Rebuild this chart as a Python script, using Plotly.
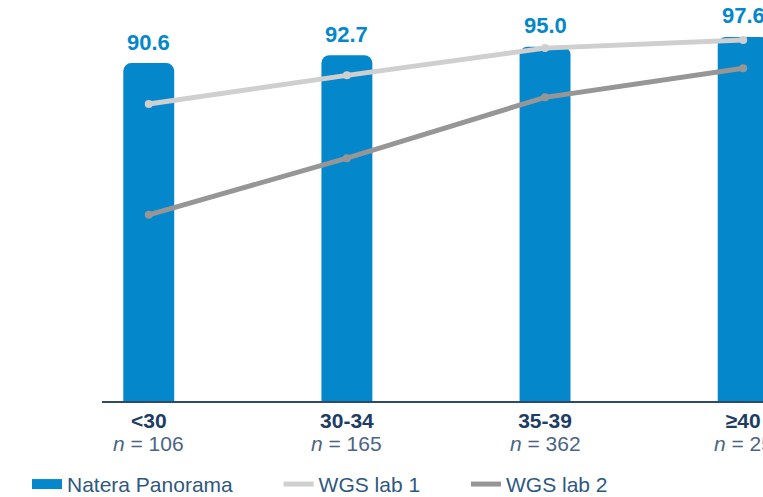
import plotly.graph_objects as go

categories = ["<30", "30-34", "35-39", "≥40"]
n_values = [106, 165, 362, 25]
panorama = [90.6, 92.7, 95.0, 97.6]
wgs_lab1 = [79.6, 87.3, 94.6, 96.8]
wgs_lab2 = [49.9, 65.1, 81.4, 89.2]

BLUE = "#0587CB"
LAB1 = "#CFCFCF"
LAB2 = "#969696"
NAVY = "#1E3D62"
LEG = "#2F5880"
FONT = "Liberation Sans, Arial, sans-serif"
PAD = "\u00a0" * 7

xidx = list(range(len(categories)))

fig = go.Figure()
fig.add_trace(go.Bar(
    x=xidx, y=panorama, name="Natera Panorama", showlegend=False,
    marker=dict(color=BLUE, cornerradius=8, line=dict(width=0)),
    width=0.257,
))
# legend proxy for the bars (pill-like swatch)
fig.add_trace(go.Scatter(
    x=[None], y=[None], name="Natera Panorama" + PAD, mode="lines",
    line=dict(color=BLUE, width=14),
))
for vals, name, col, pad in [(wgs_lab1, "WGS lab 1", LAB1, PAD), (wgs_lab2, "WGS lab 2", LAB2, "")]:
    fig.add_trace(go.Scatter(
        x=xidx, y=vals, name=name + pad, mode="lines",
        line=dict(color=col, width=5),
    ))
    fig.add_trace(go.Scatter(
        x=xidx, y=vals, mode="markers", showlegend=False,
        marker=dict(color=col, size=8),
    ))

for i, v in enumerate(panorama):
    fig.add_annotation(
        x=i, y=v, text=f"<b>{v:.1f}</b>", showarrow=False,
        yanchor="middle", yshift=21,
        font=dict(size=22, color=BLUE, family=FONT),
    )

for i, n in enumerate(n_values):
    fig.add_annotation(
        x=i, y=0, xref="x", yref="paper", text=f"<i>n</i> = {n}",
        showarrow=False, yanchor="middle", yshift=-42,
        font=dict(size=21, color="#4A6585", family=FONT),
    )

ticktext = [f"<b>{c.replace('<', '&lt;')}</b>" for c in categories]

fig.update_layout(
    width=763, height=497,
    margin=dict(l=102, r=0, t=0, b=96, autoexpand=False),
    paper_bgcolor="white", plot_bgcolor="white",
    font=dict(family=FONT, color=NAVY),
    showlegend=True,
    legend=dict(
        orientation="h", x=-0.1135, xanchor="left", y=-0.208, yanchor="middle",
        font=dict(size=21, color=LEG, family=FONT),
        traceorder="normal",
    ),
    xaxis=dict(
        tickmode="array", tickvals=xidx, ticktext=ticktext,
        range=[-0.236, 3.10], showgrid=False, zeroline=False,
        showline=True, linecolor="#2E4A6A", linewidth=2,
        ticks="", tickfont=dict(size=21, color=NAVY, family=FONT),
        fixedrange=True,
    ),
    yaxis=dict(
        range=[0, 107.5], visible=False, showgrid=False, zeroline=False,
    ),
)

fig.write_html("out.html")
